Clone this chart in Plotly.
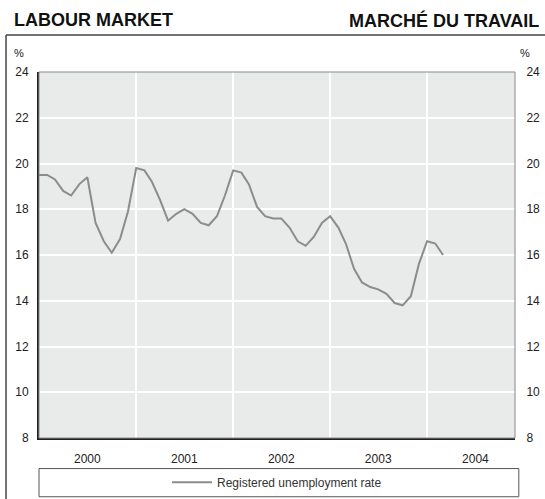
import plotly.graph_objects as go

# ---- data ----
months = [f"{y}-{m:02d}-01" for y in range(2000, 2005) for m in range(1, 13)][:51]
unemployment = [
    19.5, 19.5, 19.3, 18.8, 18.6, 19.1, 19.4, 17.4, 16.6, 16.1, 16.7, 17.9,
    19.8, 19.7, 19.2, 18.4, 17.5, 17.8, 18.0, 17.8, 17.4, 17.3, 17.7, 18.6,
    19.7, 19.6, 19.1, 18.1, 17.7, 17.6, 17.6, 17.2, 16.6, 16.4, 16.8, 17.4,
    17.7, 17.2, 16.5, 15.4, 14.8, 14.6, 14.5, 14.3, 13.9, 13.8, 14.2, 15.6,
    16.6, 16.5, 16.0,
]
year_labels = ["2000", "2001", "2002", "2003", "2004"]
year_mid = ["2000-07-01", "2001-07-01", "2002-07-01", "2003-07-01", "2004-07-01"]
year_bounds = ["2001-01-01", "2002-01-01", "2003-01-01", "2004-01-01"]
y_ticks = [8, 10, 12, 14, 16, 18, 20, 22, 24]
series_name = "Registered unemployment rate"

FONT = "Arial, Liberation Sans, sans-serif"
TXT = "#222222"

fig = go.Figure()
fig.add_trace(go.Scatter(
    x=months, y=unemployment, mode="lines", name=series_name,
    line=dict(color="#8c8c8c", width=2), yaxis="y",
))
fig.add_trace(go.Scatter(
    x=months, y=unemployment, mode="lines", showlegend=False,
    line=dict(color="rgba(0,0,0,0)", width=0), yaxis="y2", hoverinfo="skip",
))

fig.update_layout(
    width=545, height=499,
    margin=dict(l=39, r=30, t=72, b=61.3, autoexpand=False),
    paper_bgcolor="white", plot_bgcolor="#e9eaea",
    font=dict(family=FONT, size=12, color=TXT),
    showlegend=True,
    legend=dict(orientation="h", x=0.5, xanchor="center", y=-0.121, yanchor="middle",
                bgcolor="rgba(0,0,0,0)", font=dict(size=12, color="#333333"),
                itemwidth=40),
    xaxis=dict(
        type="date", range=["2000-01-01", "2004-11-27"],
        tickmode="array", tickvals=year_mid, ticktext=year_labels,
        showgrid=False, ticks="outside", ticklen=9, tickcolor="rgba(0,0,0,0)",
        tickfont=dict(size=12, color=TXT),
        showline=True, linecolor="#222222", linewidth=2,
        minor=dict(tickmode="array", tickvals=year_bounds, showgrid=True,
                   gridcolor="white", gridwidth=2, ticks=""),
        zeroline=False, fixedrange=True,
    ),
    yaxis=dict(
        range=[8, 24], tickmode="array", tickvals=y_ticks,
        showgrid=True, gridcolor="white", gridwidth=2,
        ticks="outside", ticklen=6, tickcolor="rgba(0,0,0,0)",
        tickfont=dict(size=12, color=TXT),
        showline=True, linecolor="#222222", linewidth=2, zeroline=False,
    ),
    yaxis2=dict(
        range=[8, 24], tickmode="array", tickvals=y_ticks, overlaying="y", side="right",
        showgrid=False, ticks="outside", ticklen=8, tickcolor="rgba(0,0,0,0)",
        tickfont=dict(size=12, color=TXT), showline=False, zeroline=False,
    ),
    shapes=[
        # plot frame (top/right thin grey)
        dict(type="rect", xref="paper", yref="paper", x0=0, x1=1, y0=0, y1=1,
             line=dict(color="#8a8a8a", width=1), layer="above"),
        # outer panel frame: top and left lines
        dict(type="line", xref="paper", yref="paper", x0=-0.0693, x1=1.1, y0=1.101, y1=1.101,
             line=dict(color="#444444", width=1.5)),
        dict(type="line", xref="paper", yref="paper", x0=-0.0693, x1=-0.0693, y0=1.101, y1=-0.2,
             line=dict(color="#444444", width=1.5)),
        # legend box
        dict(type="rect", xref="paper", yref="paper", x0=0, x1=1.008, y0=-0.0835, y1=-0.1605,
             line=dict(color="#555555", width=1)),
    ],
    annotations=[
        dict(text="<b>LABOUR MARKET</b>", xref="paper", yref="paper", x=-0.057, y=1.142,
             xanchor="left", yanchor="middle", showarrow=False,
             font=dict(size=18, color="#111111", family=FONT)),
        dict(text="<b>MARCHÉ DU TRAVAIL</b>", xref="paper", yref="paper", x=1.055, y=1.142,
             xanchor="right", yanchor="middle", showarrow=False,
             font=dict(size=18, color="#111111", family=FONT)),
        dict(text="%", xref="paper", yref="paper", x=-0.042, y=1.052,
             xanchor="center", yanchor="middle", showarrow=False,
             font=dict(size=11, color=TXT)),
        dict(text="%", xref="paper", yref="paper", x=1.021, y=1.052,
             xanchor="center", yanchor="middle", showarrow=False,
             font=dict(size=11, color=TXT)),
    ],
)

fig.write_html(
    "out.html",
    config={"displayModeBar": False},
    post_script="document.body.style.margin='0';document.body.style.overflow='hidden';",
)
